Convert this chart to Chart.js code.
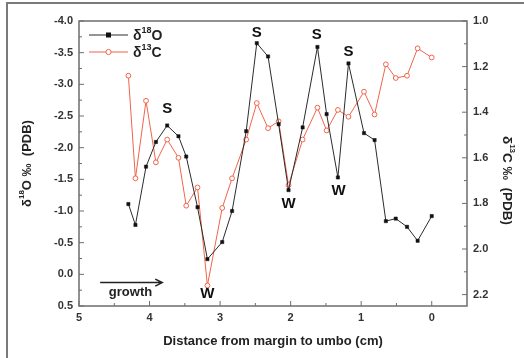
<!DOCTYPE html>
<html>
<head>
<meta charset="utf-8">
<script src="https://cdn.jsdelivr.net/npm/chart.js@4.4.1/dist/chart.umd.min.js"></script>
<style>
  html, body { margin: 0; padding: 0; background: #fff; }
  canvas { display: block; }
</style>
</head>
<body>
<canvas id="isoChart" width="524" height="358"></canvas>
<script>
// distance from margin to umbo (cm), shared by both series
const distance = [4.30, 4.20, 4.05, 3.91, 3.75, 3.59, 3.48, 3.32, 3.18, 2.97, 2.83, 2.63, 2.48, 2.32,
                  2.17, 2.03, 1.83, 1.62, 1.49, 1.33, 1.18, 0.96, 0.81, 0.65, 0.51, 0.35, 0.20, 0.00];
const d18O = [-1.11, -0.78, -1.70, -2.09, -2.35, -2.18, -1.86, -1.06, -0.24, -0.51, -1.00, -2.26, -3.65, -3.44,
              -2.37, -1.33, -2.32, -3.59, -2.53, -1.53, -3.33, -2.23, -2.12, -0.84, -0.88, -0.75, -0.53, -0.92];
const d13C = [1.24, 1.69, 1.35, 1.62, 1.52, 1.60, 1.81, 1.73, 2.16, 1.82, 1.69, 1.52, 1.36, 1.47,
              1.44, 1.72, 1.52, 1.38, 1.48, 1.39, 1.42, 1.31, 1.41, 1.19, 1.25, 1.24, 1.12, 1.16];

// tick labels
const xTicks = [5, 4, 3, 2, 1, 0];
const leftTicks = [-4.0, -3.5, -3.0, -2.5, -2.0, -1.5, -1.0, -0.5, 0.0, 0.5];
const rightTicks = [1.0, 1.2, 1.4, 1.6, 1.8, 2.0, 2.2];

// season labels (S = summer, W = winter), in data units of the left axis
const seasonText = ['S', 'S', 'S', 'S', 'W', 'W', 'W'];
const seasonX = [3.75, 2.48, 1.63, 1.18, 3.18, 2.03, 1.32];
const seasonY = [-2.61, -3.81, -3.78, -3.52, 0.31, -1.11, -1.32];

const BLACK = '#2b2b2b';
const RED = '#f0644a';
const AXIS = '#6e6e6e';
const LABEL_FONT = { family: '"Liberation Sans", Arial, sans-serif', size: 11, weight: 'bold' };
const FAMILY = '"Liberation Sans", Arial, sans-serif';

// draw text with a superscript part, centred at (cx, cy)
function drawRich(ctx, parts, cx, cy, rot, size) {
    const supSize = Math.round(size * 0.62);
    let w = 0;
    parts.forEach(p => {
        ctx.font = 'bold ' + (p[1] ? supSize : size) + 'px ' + FAMILY;
        p.w = ctx.measureText(p[0]).width;
        w += p.w;
    });
    ctx.save();
    ctx.translate(cx, cy);
    ctx.rotate(rot);
    ctx.textBaseline = 'middle';
    ctx.textAlign = 'left';
    let x = -w / 2;
    parts.forEach(p => {
        ctx.font = 'bold ' + (p[1] ? supSize : size) + 'px ' + FAMILY;
        ctx.fillText(p[0], x, p[1] ? -size * 0.42 : 0);
        x += p.w;
    });
    ctx.restore();
    return w;
}

const decorations = {
    id: 'decorations',
    beforeDraw(chart) {
        const c = chart.ctx;
        c.save();
        c.strokeStyle = '#7a7a7a';
        c.lineWidth = 2;
        c.beginPath();
        c.moveTo(7, 358);
        c.lineTo(7, 3);
        c.lineTo(524, 3);
        c.stroke();
        c.restore();
    },
    afterDraw(chart) {
        const c = chart.ctx;
        const a = chart.chartArea;
        const sx = chart.scales.x, sy = chart.scales.y, sy1 = chart.scales.y1;
        c.save();

        // plot frame
        c.strokeStyle = AXIS;
        c.lineWidth = 1.5;
        c.strokeRect(a.left, a.top, a.right - a.left, a.bottom - a.top);

        // inward ticks
        c.lineWidth = 1;
        c.beginPath();
        for (let v = 5; v >= -0.01; v -= 0.5) {
            const px = sx.getPixelForValue(v);
            const len = Math.abs(v - Math.round(v)) < 0.01 ? 5 : 3;
            c.moveTo(px, a.bottom);
            c.lineTo(px, a.bottom - len);
        }
        for (let v = -4; v <= 0.51; v += 0.25) {
            const py = sy.getPixelForValue(v);
            const len = Math.abs(v * 2 - Math.round(v * 2)) < 0.01 ? 5 : 3;
            c.moveTo(a.left, py);
            c.lineTo(a.left + len, py);
        }
        for (let i = 0; i <= 12; i++) {
            const v = 1 + i * 0.1;
            const py = sy1.getPixelForValue(v);
            const len = i % 2 === 0 ? 5 : 3;
            c.moveTo(a.right, py);
            c.lineTo(a.right - len, py);
        }
        c.stroke();

        // axis titles
        c.fillStyle = '#222';
        drawRich(c, [['δ', 0], ['18', 1], ['O ‰  (PDB)', 0]], 27, (a.top + a.bottom) / 2, -Math.PI / 2, 13);
        drawRich(c, [['δ', 0], ['13', 1], ['C ‰  (PDB)', 0]], 507, (a.top + a.bottom) / 2 + 17, Math.PI / 2, 13.5);
        c.font = 'bold 13px ' + FAMILY;
        c.textAlign = 'center';
        c.textBaseline = 'middle';
        c.fillText('Distance from margin to umbo (cm)', (a.left + a.right) / 2, 341.5);

        // legend
        const ds = chart.data.datasets;
        [0, 1].forEach(i => {
            const y = a.top + 14 + i * 17;
            const x0 = a.left + 10, x1 = a.left + 49, xm = (x0 + x1) / 2;
            c.strokeStyle = ds[i].borderColor;
            c.lineWidth = 1;
            c.beginPath();
            c.moveTo(x0, y);
            c.lineTo(x1, y);
            c.stroke();
            if (i === 0) {
                c.fillStyle = '#111';
                c.fillRect(xm - 2.5, y - 2.5, 5, 5);
            } else {
                c.fillStyle = '#fff';
                c.beginPath();
                c.arc(xm, y, 2.6, 0, Math.PI * 2);
                c.fill();
                c.stroke();
            }
            c.fillStyle = '#222';
            const parts = i === 0 ? [['δ', 0], ['18', 1], ['O', 0]] : [['δ', 0], ['13', 1], ['C', 0]];
            let w = 0;
            parts.forEach(p => { c.font = 'bold ' + (p[1] ? 9 : 14) + 'px ' + FAMILY; w += c.measureText(p[0]).width; });
            drawRich(c, parts, x1 + 5 + w / 2, y + 1, 0, 14);
        });

        // season labels
        c.fillStyle = '#111';
        c.font = 'bold 15px ' + FAMILY;
        c.textAlign = 'center';
        c.textBaseline = 'middle';
        seasonText.forEach((t, i) => {
            c.fillText(t, sx.getPixelForValue(seasonX[i]), sy.getPixelForValue(seasonY[i]));
        });

        // growth arrow
        const gy = sy.getPixelForValue(0.13);
        const gx0 = sx.getPixelForValue(4.70), gx1 = sx.getPixelForValue(3.82);
        c.strokeStyle = '#222';
        c.lineWidth = 1.5;
        c.beginPath();
        c.moveTo(gx0, gy);
        c.lineTo(gx1, gy);
        c.moveTo(gx1 - 7, gy - 3.5);
        c.lineTo(gx1, gy);
        c.lineTo(gx1 - 7, gy + 3.5);
        c.stroke();
        c.fillStyle = '#222';
        c.font = 'bold 13px ' + FAMILY;
        c.fillText('growth', sx.getPixelForValue(4.27), sy.getPixelForValue(0.28));

        c.restore();
    }
};

new Chart(document.getElementById('isoChart'), {
    type: 'line',
    data: {
        datasets: [
            {
                label: 'δ18O',
                data: distance.map((x, i) => ({ x: x, y: d18O[i] })),
                yAxisID: 'y',
                borderColor: BLACK,
                borderWidth: 1,
                pointStyle: 'rect',
                pointRadius: 2.3,
                pointBackgroundColor: '#111',
                pointBorderColor: '#111',
                pointBorderWidth: 0.5,
                tension: 0
            },
            {
                label: 'δ13C',
                data: distance.map((x, i) => ({ x: x, y: d13C[i] })),
                yAxisID: 'y1',
                borderColor: RED,
                borderWidth: 1,
                pointStyle: 'circle',
                pointRadius: 2.4,
                pointBackgroundColor: '#fff',
                pointBorderColor: RED,
                pointBorderWidth: 1,
                tension: 0
            }
        ]
    },
    options: {
        responsive: false,
        animation: false,
        layout: { padding: { top: 21, left: 0, right: 0, bottom: 0 } },
        plugins: {
            legend: { display: false },
            tooltip: { enabled: false }
        },
        scales: {
            x: {
                type: 'linear',
                position: 'bottom',
                min: -0.5,
                max: 5,
                reverse: true,
                grid: { display: false, drawTicks: false },
                border: { display: false },
                afterBuildTicks: s => { s.ticks = xTicks.map(v => ({ value: v })); },
                afterFit: s => { s.height = 52; },
                ticks: { font: LABEL_FONT, color: '#333', padding: 5, maxRotation: 0, callback: v => String(v) }
            },
            y: {
                type: 'linear',
                position: 'left',
                min: -4,
                max: 0.5,
                reverse: true,
                grid: { display: false, drawTicks: false },
                border: { display: false },
                afterBuildTicks: s => { s.ticks = leftTicks.map(v => ({ value: v })); },
                afterFit: s => { s.width = 79; },
                ticks: { font: LABEL_FONT, color: '#333', padding: 6, callback: v => v.toFixed(1) }
            },
            y1: {
                type: 'linear',
                position: 'right',
                min: 1.0,
                max: 2.25,
                reverse: true,
                grid: { display: false, drawTicks: false },
                border: { display: false },
                afterBuildTicks: s => { s.ticks = rightTicks.map(v => ({ value: v })); },
                afterFit: s => { s.width = 57; },
                ticks: { font: LABEL_FONT, color: '#333', padding: 6, callback: v => v.toFixed(1) }
            }
        }
    },
    plugins: [decorations]
});
</script>
</body>
</html>
